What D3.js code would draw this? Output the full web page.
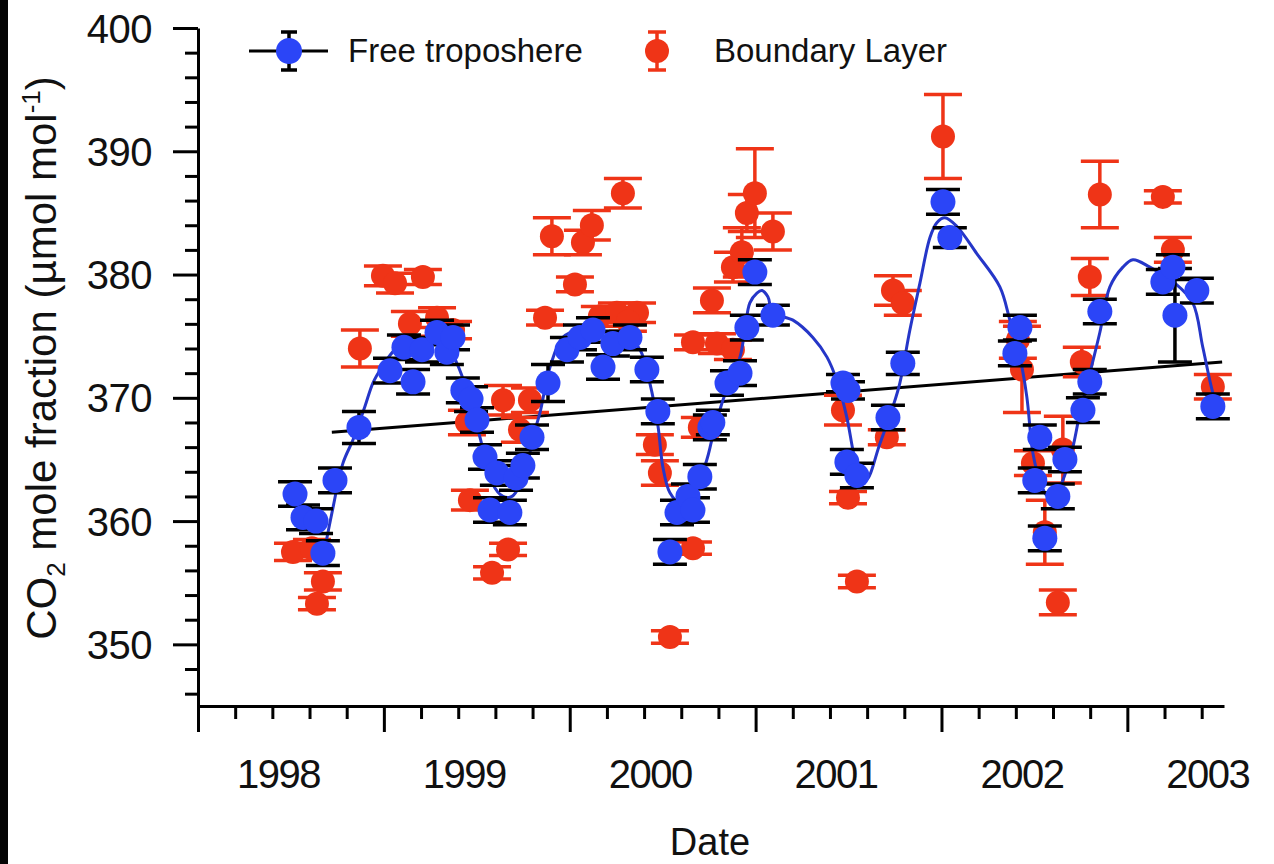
<!DOCTYPE html>
<html><head><meta charset="utf-8">
<script src="https://cdn.jsdelivr.net/npm/d3@7"></script>
<style>
html,body{margin:0;padding:0;background:#fff;}
svg{display:block;}
text{font-family:"Liberation Sans",Arial,Helvetica,sans-serif;fill:#111;}
</style></head><body>
<svg id="chart" width="1274" height="864"></svg>
<script>
// ---------------- DATA ----------------
const seriesNames = ["Free troposhere", "Boundary Layer"];
const yearLabels = [1998, 1999, 2000, 2001, 2002, 2003];
const yTickValues = [350, 360, 370, 380, 390, 400];

// Free troposphere (blue) points: decimal year, CO2 value, error
const ftYears = [1998.092,1998.135,1998.205,1998.242,1998.307,1998.436,1998.603,1998.678,1998.727,1998.775,
  1998.856,1998.909,1998.942,1998.995,1999.039,1999.071,1999.114,1999.141,1999.178,1999.248,
  1999.281,1999.318,1999.367,1999.453,1999.555,1999.625,1999.695,1999.749,1999.802,1999.894,
  1999.985,2000.044,2000.109,2000.147,2000.206,2000.233,2000.270,2000.324,2000.340,2000.416,
  2000.486,2000.523,2000.566,2000.663,2001.040,2001.067,2001.061,2001.115,2001.282,2001.362,
  2001.578,2001.615,2001.965,2001.992,2002.072,2002.099,2002.126,2002.196,2002.234,2002.331,
  2002.368,2002.422,2002.761,2002.815,2002.826,2002.944,2003.030];
const ftValues = [362.2,360.3,360.0,357.4,363.3,367.6,372.2,374.1,371.3,373.9,
  375.3,373.7,374.9,370.6,369.9,368.2,365.2,360.9,363.9,360.7,
  363.5,364.5,366.8,371.2,373.9,374.9,375.5,372.5,374.4,374.9,
  372.3,368.9,357.5,360.7,362.0,360.9,363.6,367.6,368.0,371.2,
  372.0,375.7,380.2,376.7,371.2,370.6,364.8,363.7,368.4,372.8,
  385.9,383.0,373.6,375.7,363.3,366.8,358.6,362.0,365.0,369.0,
  371.3,377.0,379.4,380.6,376.7,378.7,369.3];
const ftErrors = [1.0,1.0,1.0,1.0,1.0,1.3,1.0,1.0,1.0,1.0,
  1.0,1.0,1.0,1.0,1.0,1.0,1.0,1.0,1.0,1.0,
  1.0,1.0,1.0,1.5,1.0,1.0,1.0,1.0,1.0,1.0,
  1.0,1.0,1.0,1.0,1.0,1.0,1.0,1.0,1.0,1.0,
  1.0,1.0,1.0,0.8,0.7,0.7,1.0,1.0,1.0,0.9,
  1.0,0.8,1.0,1.0,1.0,1.0,1.0,1.0,1.0,1.0,
  1.0,1.0,1.0,1.0,3.8,1.0,1.0];

// Boundary layer (red) points
const blYears = [1998.081,1998.183,1998.242,1998.210,1998.441,1998.565,1998.630,1998.780,1998.710,1998.856,
  1998.942,1999.017,1999.033,1999.152,1999.238,1999.211,1999.302,1999.356,1999.437,1999.474,
  1999.598,1999.641,1999.689,1999.856,1999.732,1999.824,1999.932,1999.883,2000.028,2000.055,
  2000.233,2000.109,2000.233,2000.270,2000.335,2000.362,2000.448,2000.448,2000.496,2000.523,
  2000.566,2000.663,2001.040,2001.067,2001.115,2001.276,2001.309,2001.362,2001.578,2001.981,
  2002.003,2002.062,2002.126,2002.196,2002.223,2002.325,2002.368,2002.422,2002.761,2002.815,
  2003.030];
const blValues = [357.5,357.8,355.1,353.3,374.0,379.9,379.3,379.8,376.0,376.5,
  375.5,368.0,361.7,355.8,357.7,369.8,367.4,369.8,376.5,383.1,
  379.2,382.6,384.0,386.6,376.6,376.9,376.9,376.2,366.2,363.9,
  357.8,350.6,374.5,367.6,377.9,374.4,373.9,380.6,381.8,385.0,
  386.6,383.5,369.0,361.9,355.1,366.8,378.7,377.7,391.2,374.7,
  372.3,364.7,359.1,353.4,365.8,372.9,379.8,386.5,386.3,382.0,
  370.9];
const blErrors = [0.7,0.7,0.7,0.5,1.5,0.8,0.8,0.6,1.0,0.8,
  0.7,1.0,0.8,0.5,0.5,1.2,1.0,1.0,0.6,1.5,
  0.6,1.0,1.2,1.2,0.8,0.8,0.8,0.8,0.8,1.0,
  0.5,0.5,0.6,0.8,1.0,0.8,0.8,1.2,2.0,1.5,
  3.6,1.5,1.2,0.5,0.5,0.6,1.2,1.0,3.4,1.5,
  3.5,1.0,2.6,1.0,2.7,1.2,1.5,2.7,0.5,1.0,
  1.0];

// Smooth seasonal fit (blue curve)
const fitYears = [1998.253,1998.291,1998.350,1998.404,1998.468,1998.511,1998.560,1998.630,1998.710,1998.818,
  1998.899,1998.963,1999.017,1999.087,1999.152,1999.211,1999.259,1999.302,1999.340,1999.372,
  1999.410,1999.464,1999.533,1999.625,1999.732,1999.867,1999.948,2000.001,2000.044,2000.071,
  2000.109,2000.163,2000.244,2000.308,2000.335,2000.394,2000.486,2000.512,2000.539,2000.577,
  2000.604,2000.636,2000.663,2000.771,2000.878,2000.954,2001.007,2001.061,2001.093,2001.120,
  2001.163,2001.239,2001.309,2001.346,2001.400,2001.454,2001.508,2001.545,2001.588,2001.653,
  2001.760,2001.884,2001.938,2001.992,2002.029,2002.062,2002.099,2002.142,2002.185,2002.223,
  2002.277,2002.315,2002.352,2002.422,2002.476,2002.546,2002.600,2002.691,2002.826,2002.922,
  2002.976,2003.030,2003.068];
const fitValues = [357.8,360.7,364.7,366.6,369.3,371.2,372.5,373.9,374.5,374.9,
  374.5,372.8,370.6,366.8,363.1,362.0,362.0,362.9,364.4,366.8,
  368.8,372.5,374.9,375.5,375.3,375.1,373.9,371.2,367.8,364.4,
  362.3,361.5,362.5,365.0,366.6,369.8,373.3,375.5,377.7,378.5,
  378.7,378.2,376.9,376.3,374.9,373.3,371.4,368.4,365.8,364.0,
  363.3,366.3,369.3,371.2,375.5,379.3,383.0,384.2,384.6,383.9,
  381.7,379.0,376.3,373.3,370.1,365.5,363.3,362.0,362.1,363.3,
  366.0,368.8,371.0,375.3,379.0,380.6,381.2,380.6,379.3,377.7,
  374.1,370.4,368.8];

// Linear trend line
const trendYears = [1998.29, 2003.08];
const trendValues = [367.2, 372.9];

// ---------------- CHART ----------------
const W = 1274, H = 864;
const BLUE = "#2b45f7", RED = "#ef3417", CURVE = "#2536c8";
const xStart = 1997.57;

const x = d3.scaleLinear().domain([xStart, 2003.09]).range([198, 1224]);
const y = d3.scaleLinear().domain([345, 400]).range([706, 28]);

const svg = d3.select("#chart");
svg.append("rect").attr("width", W).attr("height", H).attr("fill", "#fff");
svg.append("rect").attr("x", 0).attr("y", 0).attr("width", 8).attr("height", H).attr("fill", "#050505");

function styleAxis(g) {
  g.attr("font-family", null).attr("font-size", null);
  g.selectAll("path.domain").attr("stroke", "#000").attr("stroke-width", 3);
  g.selectAll(".tick line").attr("stroke", "#000").attr("stroke-width", 3);
}

// Y axis
const gYmin = svg.append("g").attr("transform", `translate(${x(xStart)},0)`);
const yMinor = d3.range(346, 400, 2).filter(v => v % 10 !== 0);
gYmin.call(d3.axisLeft(y).tickValues(yMinor).tickSize(13).tickSizeOuter(0).tickFormat(""));
gYmin.select("path.domain").remove();
styleAxis(gYmin);

const gY = svg.append("g").attr("transform", `translate(${x(xStart)},0)`);
gY.call(d3.axisLeft(y).tickValues(yTickValues).tickSize(25).tickSizeOuter(0).tickPadding(21).tickFormat(d3.format("d")));
styleAxis(gY);
gY.selectAll(".tick text").attr("font-size", 40).attr("fill", "#111").attr("dy", "0.35em").style("letter-spacing", "-0.5px");

// X axis
const xMajor = d3.range(0, 6).map(k => xStart + k);
const xMinor = d3.range(1, 28).filter(i => i % 5 !== 0).map(i => xStart + 0.2 * i);
const gXmin = svg.append("g").attr("transform", `translate(0,${y(345)})`);
gXmin.call(d3.axisBottom(x).tickValues(xMinor).tickSize(13).tickSizeOuter(0).tickFormat(""));
gXmin.select("path.domain").remove();
styleAxis(gXmin);

const gX = svg.append("g").attr("transform", `translate(0,${y(345)})`);
gX.call(d3.axisBottom(x).tickValues(xMajor).tickSize(26).tickSizeOuter(0).tickFormat(""));
styleAxis(gX);

const gXl = svg.append("g").attr("transform", `translate(0,${y(345)})`);
gXl.call(d3.axisBottom(x).tickValues(yearLabels).tickSize(0).tickPadding(54).tickFormat(d3.format("d")));
gXl.select("path.domain").remove();
gXl.attr("font-family", null).attr("font-size", null);
gXl.selectAll(".tick text").attr("font-size", 40).attr("fill", "#111").style("letter-spacing", "-1.5px");

// Axis titles
svg.append("text").attr("x", 710).attr("y", 855).attr("text-anchor", "middle")
  .attr("font-size", 38).text("Date");

const yt = svg.append("text").attr("transform", "translate(56,358) rotate(-90)")
  .attr("text-anchor", "middle").attr("font-size", 42);
yt.append("tspan").text("CO");
yt.append("tspan").attr("dy", 9).attr("font-size", 26).text("2");
yt.append("tspan").attr("dy", -9).text(" mole fraction (\u00B5mol mol");
yt.append("tspan").attr("dy", -16).attr("font-size", 26).text("-1");
yt.append("tspan").attr("dy", 16).text(")");

// Trend line
const line = d3.line().x(d => x(d[0])).y(d => y(d[1]));
svg.append("path").datum(d3.zip(trendYears, trendValues))
  .attr("d", line).attr("fill", "none").attr("stroke", "#000").attr("stroke-width", 3);

// Error bar helper
function errorBars(g, data, color, capHalf, width) {
  const eb = g.selectAll("g.eb").data(data).join("g").attr("class", "eb")
    .attr("stroke", color).attr("stroke-width", width);
  eb.append("line").attr("x1", d => x(d.t)).attr("x2", d => x(d.t))
    .attr("y1", d => y(d.v - d.e)).attr("y2", d => y(d.v + d.e));
  eb.append("line").attr("x1", d => x(d.t) - capHalf).attr("x2", d => x(d.t) + capHalf)
    .attr("y1", d => y(d.v - d.e)).attr("y2", d => y(d.v - d.e));
  eb.append("line").attr("x1", d => x(d.t) - capHalf).attr("x2", d => x(d.t) + capHalf)
    .attr("y1", d => y(d.v + d.e)).attr("y2", d => y(d.v + d.e));
}

const blData = blYears.map((t, i) => ({t, v: blValues[i], e: blErrors[i]}));
const ftData = ftYears.map((t, i) => ({t, v: ftValues[i], e: ftErrors[i]}));

// Boundary layer
const gBL = svg.append("g");
errorBars(gBL.append("g"), blData, RED, 19, 3.5);
gBL.append("g").selectAll("circle").data(blData).join("circle")
  .attr("cx", d => x(d.t)).attr("cy", d => y(d.v)).attr("r", 12).attr("fill", RED);

// Fit curve
const curveLine = d3.line().x(d => x(d[0])).y(d => y(d[1])).curve(d3.curveCatmullRom.alpha(0.5));
svg.append("path").datum(d3.zip(fitYears, fitValues))
  .attr("d", curveLine).attr("fill", "none").attr("stroke", CURVE).attr("stroke-width", 3);

// Free troposphere
const gFT = svg.append("g");
errorBars(gFT.append("g"), ftData, "#000", 17, 3.5);
gFT.append("g").selectAll("circle").data(ftData).join("circle")
  .attr("cx", d => x(d.t)).attr("cy", d => y(d.v)).attr("r", 12.5).attr("fill", BLUE);

// Legend
const lg = svg.append("g");
const ly = 51;
lg.append("line").attr("x1", 249).attr("x2", 328).attr("y1", ly).attr("y2", ly).attr("stroke", "#000").attr("stroke-width", 3);
[[289, "#000", 8], [657, RED, 9]].forEach(([cx, col, ch]) => {
  lg.append("line").attr("x1", cx).attr("x2", cx).attr("y1", ly - 19).attr("y2", ly + 19).attr("stroke", col).attr("stroke-width", 3.5);
  lg.append("line").attr("x1", cx - ch).attr("x2", cx + ch).attr("y1", ly - 19).attr("y2", ly - 19).attr("stroke", col).attr("stroke-width", 3.5);
  lg.append("line").attr("x1", cx - ch).attr("x2", cx + ch).attr("y1", ly + 19).attr("y2", ly + 19).attr("stroke", col).attr("stroke-width", 3.5);
});
lg.append("circle").attr("cx", 289).attr("cy", ly).attr("r", 13).attr("fill", BLUE);
lg.append("circle").attr("cx", 657).attr("cy", ly).attr("r", 12).attr("fill", RED);
lg.append("text").attr("x", 348).attr("y", 62).attr("font-size", 33).text(seriesNames[0]);
lg.append("text").attr("x", 714).attr("y", 62).attr("font-size", 33).text(seriesNames[1]);
</script>
</body></html>
